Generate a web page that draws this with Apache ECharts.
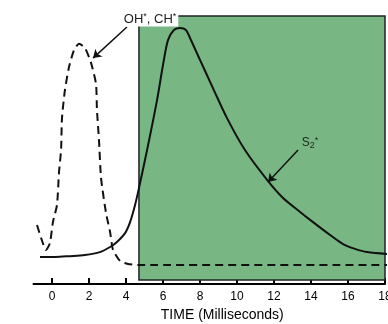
<!DOCTYPE html>
<html><head><meta charset="utf-8">
<script src="https://cdn.jsdelivr.net/npm/echarts@6/dist/echarts.min.js"></script>
<style>html,body{margin:0;padding:0;background:#fff}#c{width:388px;height:324px}</style>
</head><body><div id="c"></div>
<script>
// S2* emission (time ms, intensity)
const s2Time = [-0.65,0.16,0.97,1.78,2.59,3.14,3.51,3.95,4.22,4.49,4.7,5.14,5.68,6.0,6.27,6.59,6.92,7.24,7.46,8.0,8.7,9.46,10.43,11.68,12.49,13.41,14.11,15.03,15.73,16.38,17.03,18.16];
const s2Val  = [10.1,10.1,10.4,10.8,11.9,13.8,15.7,19.0,23.1,29.5,35.8,50,68.7,81.7,91,94.8,95.5,94.8,91.8,83.6,73.1,61.9,50,38.4,32.1,26.9,23.1,18.3,14.9,13.1,11.9,11.2];
// OH*, CH* emission
const ohTime = [-0.81,-0.59,-0.32,-0.11,0.05,0.27,0.38,0.49,0.54,0.70,0.92,1.19,1.46,1.78,2.11,2.38,2.43,2.54,2.65,2.92,3.14,3.3,3.68,4.1,4.7,18.16];
const ohVal  = [22,17.2,12.7,15.3,23.1,29.5,41.8,50,61.9,72.4,81,87.3,89.6,88.1,82.5,74.6,64.9,53.7,39.6,26.5,19.4,12.7,8.6,7.5,7.1,7.1];
const xTicks = [0,2,4,6,8,10,12,14,16,18];
const shadeRange = [4.7, 18];
const labelOH = {at:[5.3, 98.9], from:[4.05, 95.9], to:[2.22, 84.3]};
const labelS2 = {at:[13.95, 52.6], from:[13.3, 50], to:[11.68, 38.1]};

const font = "'Liberation Sans', Arial, sans-serif";
const zip = (a,b) => a.map((v,i)=>[v,b[i]]);
const chart = echarts.init(document.getElementById('c'));
chart.setOption({
  animation:false,
  grid:{left:33.5,right:3,top:16,bottom:40,outerBoundsMode:'none',containLabel:false},
  xAxis:{type:'value',min:-1,max:18,
    axisLine:{lineStyle:{color:'#000',width:2}},
    axisTick:{show:true,inside:true,length:6,lineStyle:{color:'#000',width:2},customValues:xTicks},
    axisLabel:{customValues:xTicks,color:'#000',fontSize:12,fontFamily:font,margin:7,showMaxLabel:true,hideOverlap:false},
    splitLine:{show:false},
    name:'TIME (Milliseconds)',nameLocation:'middle',nameGap:21,
    nameTextStyle:{color:'#000',fontSize:14,fontFamily:font,padding:[0,0,0,26]}
  },
  yAxis:{type:'value',min:0,max:100,show:false},
  series:[
    {type:'line',data:[],silent:true,
     markArea:{silent:true,itemStyle:{color:'#78b784',borderColor:'#222',borderWidth:1.5},
       data:[[{xAxis:shadeRange[0],yAxis:1.5},{xAxis:shadeRange[1],yAxis:100}]]}},
    {type:'line',data:zip(ohTime,ohVal),showSymbol:false,smooth:0.2,clip:false,
     lineStyle:{color:'#111',width:2,type:[8,5]}},
    {type:'line',data:zip(s2Time,s2Val),showSymbol:false,smooth:0.3,clip:false,
     lineStyle:{color:'#111',width:2},
     markLine:{silent:true,symbol:['none','arrow'],symbolSize:8,
       lineStyle:{color:'#111',width:1.5,type:'solid'},label:{show:false},
       data:[[{coord:labelOH.from},{coord:labelOH.to}],[{coord:labelS2.from},{coord:labelS2.to}]]},
     markPoint:{silent:true,symbol:'circle',symbolSize:0,
       data:[
        {coord:labelOH.at,label:{show:true,position:'inside',backgroundColor:'#fff',padding:[1,2],
          formatter:'{a|OH}{s|*}{a|, CH}{s|*}',
          rich:{a:{fontSize:13,fontFamily:font,color:'#222'},s:{fontSize:9,fontFamily:font,color:'#222',verticalAlign:'top',padding:[0,0,4,0]}}}},
        {coord:labelS2.at,label:{show:true,position:'inside',
          formatter:'{a|S}{b|2}{s|*}',
          rich:{a:{fontSize:12,fontFamily:font,color:'#1a2a1a'},b:{fontSize:9,fontFamily:font,color:'#1a2a1a',padding:[4,0,0,0]},s:{fontSize:9,fontFamily:font,color:'#1a2a1a',padding:[0,0,5,0]}}}}
       ]}}
  ]
});
</script></body></html>
